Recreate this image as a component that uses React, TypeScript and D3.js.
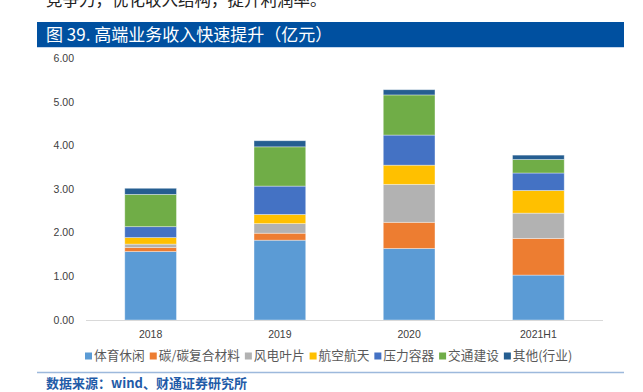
import React, { useEffect, useRef } from "react";
import * as d3 from "d3";

const categories = ["2018", "2019", "2020", "2021H1"];
const seriesNames = ["体育休闲", "碳/碳复合材料", "风电叶片", "航空航天", "压力容器", "交通建设", "其他(行业)"];
const seriesColors = ["#5B9BD5", "#ED7D31", "#B2B2B2", "#FFC000", "#4472C4", "#70AD47", "#255E91"];
const sports = [1.57, 1.83, 1.64, 1.03];
const carbon = [0.09, 0.16, 0.60, 0.84];
const wind = [0.08, 0.22, 0.87, 0.58];
const aero = [0.15, 0.21, 0.44, 0.52];
const pressure = [0.25, 0.65, 0.69, 0.40];
const traffic = [0.74, 0.90, 0.92, 0.31];
const other = [0.14, 0.14, 0.12, 0.10];
const yTicks = [0, 1, 2, 3, 4, 5, 6];
const introText = "竞争力，优化收入结构，提升利润率。";
const titleText = "图 39. 高端业务收入快速提升（亿元）";
const sourceText = "数据来源：wind、财通证券研究所";

const W = 643;
const H = 392;
const FONT = "'Noto Sans CJK SC', 'Noto Sans', sans-serif";

export default function App() {
  const ref = useRef<SVGSVGElement>(null);

  useEffect(() => {
    const svg = d3.select(ref.current);
    svg.selectAll("*").remove();

    const values = [sports, carbon, wind, aero, pressure, traffic, other];
    const rows = categories.map((c, i) => {
      const r: any = { cat: c };
      seriesNames.forEach((s, k) => (r[s] = values[k][i]));
      return r;
    });
    const stacked = d3.stack<any>().keys(seriesNames)(rows);

    const x = d3.scaleBand().domain(categories).range([86, 603]).paddingInner(0.6).paddingOuter(0.3);
    const y = d3.scaleLinear().domain([0, 6]).range([320, 58.3]);

    // intro text (cut at top, as in the reference page crop)
    svg.append("text").attr("x", 46).attr("y", 6).attr("font-family", FONT)
      .attr("font-size", 16.5).attr("fill", "#222").text(introText);

    // title bar
    svg.append("rect").attr("x", 37).attr("y", 22).attr("width", 587).attr("height", 25).attr("fill", "#0050A0");
    svg.append("line").attr("x1", 37).attr("x2", 624).attr("y1", 47.5).attr("y2", 47.5)
      .attr("stroke", "#C5D6EC").attr("stroke-width", 1);
    svg.append("text").attr("x", 46).attr("y", 41).attr("font-family", FONT)
      .attr("font-size", 17).attr("fill", "#fff").text(titleText);

    // y ticks
    svg.append("g").selectAll("text").data(yTicks).join("text")
      .attr("x", 74).attr("y", (d) => y(d)).attr("dy", "0.35em").attr("text-anchor", "end")
      .attr("font-family", "'Liberation Sans', Arial, sans-serif").attr("font-size", 10.5)
      .attr("fill", "#404040").text((d) => d.toFixed(2));

    // bars
    const g = svg.append("g");
    stacked.forEach((layer, k) => {
      g.append("g").selectAll("rect").data(layer).join("rect")
        .attr("x", (d: any) => x(d.data.cat)!)
        .attr("width", x.bandwidth())
        .attr("y", (d: any) => y(d[1]))
        .attr("height", (d: any) => y(d[0]) - y(d[1]))
        .attr("fill", seriesColors[k])
        .attr("stroke", "#ffffff").attr("stroke-opacity", 0.45).attr("stroke-width", 0.8);
    });

    // x axis line
    svg.append("line").attr("x1", 86).attr("x2", 603).attr("y1", 320.5).attr("y2", 320.5)
      .attr("stroke", "#D9D9D9").attr("stroke-width", 1);

    // x labels
    svg.append("g").selectAll("text").data(categories).join("text")
      .attr("x", (d) => x(d)! + x.bandwidth() / 2).attr("y", 334).attr("dy", "0.35em")
      .attr("text-anchor", "middle").attr("font-family", "'Liberation Sans', Arial, sans-serif")
      .attr("font-size", 10.5).attr("fill", "#404040").text((d) => d);

    // legend
    const lg = svg.append("g");
    let cx = 85;
    seriesNames.forEach((s, k) => {
      lg.append("rect").attr("x", cx).attr("y", 352.5).attr("width", 7).attr("height", 7).attr("fill", seriesColors[k]);
      const t = lg.append("text").attr("x", cx + 9).attr("y", 356).attr("dy", "0.35em")
        .attr("font-family", FONT).attr("font-size", 12.7).attr("fill", "#595959").text(s);
      const w = (t.node() as SVGTextElement).getComputedTextLength();
      cx += 9 + w + 5;
    });

    // bottom line
    svg.append("line").attr("x1", 37).attr("x2", 624).attr("y1", 372.5).attr("y2", 372.5)
      .attr("stroke", "#9DB9DC").attr("stroke-width", 1.5);

    // source
    svg.append("text").attr("x", 46).attr("y", 383.5).attr("dy", "0.35em").attr("font-family", FONT)
      .attr("font-size", 13).attr("font-weight", 700).attr("fill", "#1F5BA8").text(sourceText);
  }, []);

  return (
    <svg ref={ref} width={W} height={H} style={{ position: "absolute", left: 0, top: 0, background: "#fff" }} />
  );
}
